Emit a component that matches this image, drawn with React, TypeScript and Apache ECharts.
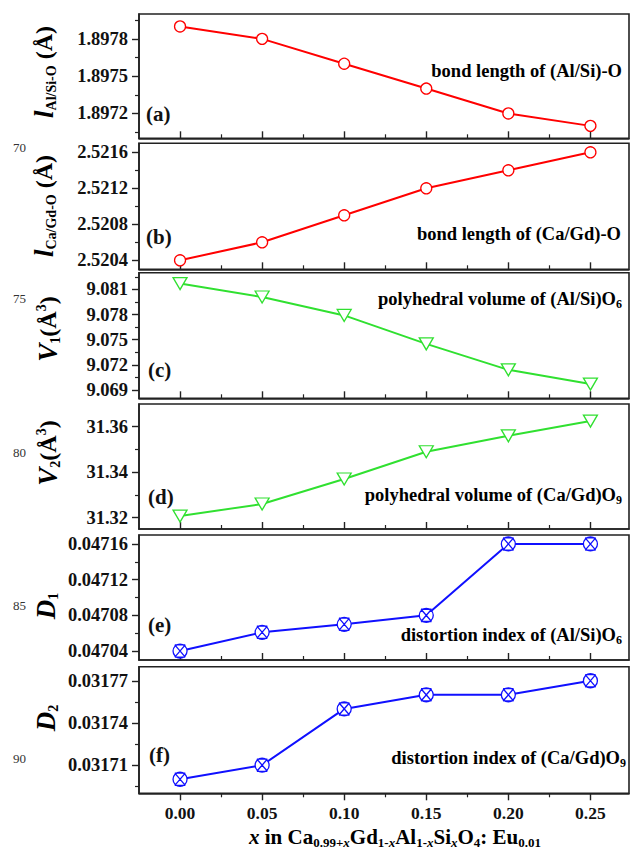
import React, { useEffect, useRef } from "react";
import * as echarts from "echarts";

// ---- data ----
const xValues = [0, 0.05, 0.1, 0.15, 0.2, 0.25];
const xMajorTicks = [0, 0.05, 0.1, 0.15, 0.2, 0.25];
const xMinorTicks = [0.025, 0.075, 0.125, 0.175, 0.225];

const bondAlSiO = [1.8979, 1.8978, 1.8976, 1.8974, 1.8972, 1.8971];
const bondCaGdO = [2.5204, 2.5206, 2.5209, 2.5212, 2.5214, 2.5216];
const volAlSiO6 = [9.0817, 9.0801, 9.0779, 9.0745, 9.0714, 9.0697];
const volCaGdO9 = [31.3207, 31.326, 31.337, 31.349, 31.356, 31.3625];
const distAlSiO6 = [0.04704, 0.047061, 0.04707, 0.04708, 0.04716, 0.04716];
const distCaGdO9 = [0.0317, 0.03171, 0.03175, 0.03176, 0.03176, 0.03177];

const ticksA = [1.8972, 1.8975, 1.8978];
const minorA = [1.89705, 1.89735, 1.89765, 1.89795];
const ticksB = [2.5204, 2.5208, 2.5212, 2.5216];
const minorB = [2.5206, 2.521, 2.5214];
const ticksC = [9.069, 9.072, 9.075, 9.078, 9.081];
const minorC = [9.0705, 9.0735, 9.0765, 9.0795, 9.0825];
const ticksD = [31.32, 31.34, 31.36];
const minorD = [31.33, 31.35];
const ticksE = [0.04704, 0.04708, 0.04712, 0.04716];
const minorE = [0.04706, 0.0471, 0.04714];
const ticksF = [0.03171, 0.03174, 0.03177];
const minorF = [0.031695, 0.031725, 0.031755];

const SERIF = "'Liberation Serif', 'DejaVu Serif', serif";
const RED = "#ff0000";
const GREEN = "#30e030";
const BLUE = "#1010ff";
const XMARK =
  "path://M2,10 A8,8 0 1,1 18,10 A8,8 0 1,1 2,10 Z M4,3 L16,17 M4,17 L16,3 M4,3 L16,3 M4,17 L16,17";

const panels = [
  { values: bondAlSiO, ticks: ticksA, minor: minorA, min: 1.897, max: 1.898, dec: 4, top: 14, height: 124.3, color: RED, symbol: "circle", size: 11, rot: 0 },
  { values: bondCaGdO, ticks: ticksB, minor: minorB, min: 2.5203, max: 2.5217, dec: 4, top: 143.3, height: 126, color: RED, symbol: "circle", size: 11, rot: 0 },
  { values: volAlSiO6, ticks: ticksC, minor: minorC, min: 9.068, max: 9.083, dec: 3, top: 272.7, height: 125.6, color: GREEN, symbol: "triangle", size: [14, 12], rot: 180 },
  { values: volCaGdO9, ticks: ticksD, minor: minorD, min: 31.315, max: 31.37, dec: 2, top: 404, height: 125, color: GREEN, symbol: "triangle", size: [14, 12], rot: 180 },
  { values: distAlSiO6, ticks: ticksE, minor: minorE, min: 0.04703, max: 0.04717, dec: 5, top: 535, height: 125, color: BLUE, symbol: XMARK, size: 14, rot: 0 },
  { values: distCaGdO9, ticks: ticksF, minor: minorF, min: 0.03169, max: 0.03178, dec: 5, top: 666.7, height: 126.6, color: BLUE, symbol: XMARK, size: 14, rot: 0 },
];

const GRID_LEFT = 139;
const GRID_WIDTH = 490;
const XMIN = -0.025;
const XMAX = 0.2735;

const main = { fontFamily: SERIF, fontWeight: "bold" as const, fontSize: 18.5, lineHeight: 22, color: "#111" };
const sub = { fontFamily: SERIF, fontWeight: "bold" as const, fontSize: 12, lineHeight: 12, verticalAlign: "bottom" as const, padding: [6, 0, 0, 0], color: "#111" };

function annotation(text: string, x: number, y: number) {
  return {
    type: "text",
    x,
    y,
    style: {
      text,
      align: "right",
      verticalAlign: "middle",
      rich: { m: main, s: sub },
    },
    z: 10,
  };
}

function panelLabel(text: string, x: number, y: number) {
  return {
    type: "text",
    x,
    y,
    style: { text, font: `bold 21px ${SERIF}`, fill: "#111", align: "left", verticalAlign: "middle" },
    z: 10,
  };
}

function yTitle(text: string, x: number, y: number) {
  return {
    type: "text",
    x,
    y,
    rotation: Math.PI / 2,
    style: {
      text,
      align: "center",
      verticalAlign: "middle",
      rich: {
        i: { fontFamily: SERIF, fontWeight: "bold", fontStyle: "italic", fontSize: 27, lineHeight: 28, color: "#111" },
        n: { fontFamily: SERIF, fontWeight: "bold", fontSize: 24, lineHeight: 28, color: "#111" },
        s: { fontFamily: SERIF, fontWeight: "bold", fontSize: 14, lineHeight: 14, verticalAlign: "bottom", padding: [7, 0, 0, 0], color: "#111" },
        u: { fontFamily: SERIF, fontWeight: "bold", fontSize: 14, lineHeight: 14, verticalAlign: "top", color: "#111" },
      },
    },
    z: 10,
  };
}

function lineNo(text: string, y: number) {
  return {
    type: "text",
    x: 13,
    y,
    style: { text, font: `13px ${SERIF}`, fill: "#333", align: "left", verticalAlign: "middle" },
  };
}

export default function App() {
  const ref = useRef<HTMLDivElement>(null);
  useEffect(() => {
    if (!ref.current) return;
    const chart = echarts.init(ref.current, undefined, { renderer: "svg" });
    const grid: any[] = [];
    const xAxis: any[] = [];
    const yAxis: any[] = [];
    const series: any[] = [];
    panels.forEach((p, i) => {
      const last = i === panels.length - 1;
      grid.push({
        left: GRID_LEFT,
        width: GRID_WIDTH,
        top: p.top,
        height: p.height,
        show: true,
        borderColor: "#222",
        borderWidth: 1.6,
        backgroundColor: "transparent",
      });
      xAxis.push({
        type: "value",
        gridIndex: i,
        min: XMIN,
        max: XMAX,
        position: "bottom",
        axisLine: { show: true, onZero: false, lineStyle: { color: "#222", width: 1.6 } },
        axisTick: { show: true, inside: !last, length: 7, customValues: xMajorTicks, lineStyle: { color: "#222", width: 1.4 } },
        axisLabel: {
          show: last,
          customValues: xMajorTicks,
          formatter: (v: number) => v.toFixed(2),
          fontFamily: SERIF,
          fontWeight: "bold",
          fontSize: 17.5,
          color: "#111",
          margin: 11,
        },
        splitLine: { show: false },
      });
      xAxis.push({
        type: "value",
        gridIndex: i,
        min: XMIN,
        max: XMAX,
        position: "bottom",
        offset: 0,
        axisLine: { show: false, onZero: false },
        axisTick: { show: true, inside: !last, length: 4, customValues: xMinorTicks, lineStyle: { color: "#222", width: 1.2 } },
        axisLabel: { show: false },
        splitLine: { show: false },
      });
      yAxis.push({
        type: "value",
        gridIndex: i,
        min: p.min,
        max: p.max,
        position: "left",
        axisLine: { show: true, onZero: false, lineStyle: { color: "#222", width: 1.6 } },
        axisTick: { show: true, inside: false, length: 7, customValues: p.ticks, lineStyle: { color: "#222", width: 1.4 } },
        axisLabel: {
          customValues: p.ticks,
          formatter: (v: number) => v.toFixed(p.dec),
          fontFamily: SERIF,
          fontWeight: "bold",
          fontSize: 18.5,
          color: "#111",
          margin: 11,
        },
        splitLine: { show: false },
      });
      yAxis.push({
        type: "value",
        gridIndex: i,
        min: p.min,
        max: p.max,
        position: "left",
        offset: 0,
        axisLine: { show: false, onZero: false },
        axisTick: { show: true, inside: false, length: 4, customValues: p.minor, lineStyle: { color: "#222", width: 1.2 } },
        axisLabel: { show: false },
        splitLine: { show: false },
      });
      series.push({
        type: "line",
        xAxisIndex: 2 * i,
        yAxisIndex: 2 * i,
        data: xValues.map((x, j) => [x, p.values[j]]),
        symbol: p.symbol,
        symbolSize: p.size,
        symbolRotate: p.rot,
        showAllSymbol: true,
        lineStyle: { color: p.color, width: 2 },
        itemStyle: { color: "#ffffff", borderColor: p.color, borderWidth: 1.3 },
        z: 5,
      });
    });

    const graphic: any[] = [
      annotation("{m|bond length of (Al/Si)-O}", 622, 71),
      annotation("{m|bond length of (Ca/Gd)-O}", 621, 234),
      annotation("{m|polyhedral volume of (Al/Si)O}{s|6}", 622, 299),
      annotation("{m|polyhedral volume of (Ca/Gd)O}{s|9}", 622, 495),
      annotation("{m|distortion index of (Al/Si)O}{s|6}", 622, 635),
      annotation("{m|distortion index of (Ca/Gd)O}{s|9}", 626, 758),
      panelLabel("(a)", 146, 114),
      panelLabel("(b)", 146, 237),
      panelLabel("(c)", 148, 370),
      panelLabel("(d)", 148, 497),
      panelLabel("(e)", 148, 625),
      panelLabel("(f)", 149, 755),
      yTitle("{i|l}{s|Al/Si-O}{n| (Å)}", 44, 72),
      yTitle("{i|l}{s|Ca/Gd-O}{n| (Å)}", 44, 206),
      yTitle("{i|V}{s|1}{n|(Å}{u|3}{n|)}", 48, 329),
      yTitle("{i|V}{s|2}{n|(Å}{u|3}{n|)}", 48, 453),
      yTitle("{i|D}{s|1}", 46, 606),
      yTitle("{i|D}{s|2}", 46, 718),
      lineNo("70", 147),
      lineNo("75", 298),
      lineNo("80", 452),
      lineNo("85", 605),
      lineNo("90", 758),
      {
        type: "text",
        x: 395,
        y: 837,
        style: {
          text:
            "{i|x}{m| in Ca}{s|0.99+}{si|x}{m|Gd}{s|1-}{si|x}{m|Al}{s|1-}{si|x}{m|Si}{si|x}{m|O}{s|4}{m|: Eu}{s|0.01}",
          align: "center",
          verticalAlign: "middle",
          rich: {
            m: { ...main, fontSize: 21, lineHeight: 24 },
            i: { ...main, fontSize: 21, lineHeight: 24, fontStyle: "italic" },
            s: { ...sub, fontSize: 13, lineHeight: 13, padding: [7, 0, 0, 0] },
            si: { ...sub, fontSize: 13, lineHeight: 13, padding: [7, 0, 0, 0], fontStyle: "italic" },
          },
        },
      },
    ];

    chart.setOption({
      animation: false,
      backgroundColor: "#ffffff",
      grid,
      xAxis,
      yAxis,
      series,
      graphic,
    });
    return () => chart.dispose();
  }, []);
  return (
    <div
      ref={ref}
      style={{ position: "absolute", left: 0, top: 0, width: 631, height: 855 }}
    />
  );
}
